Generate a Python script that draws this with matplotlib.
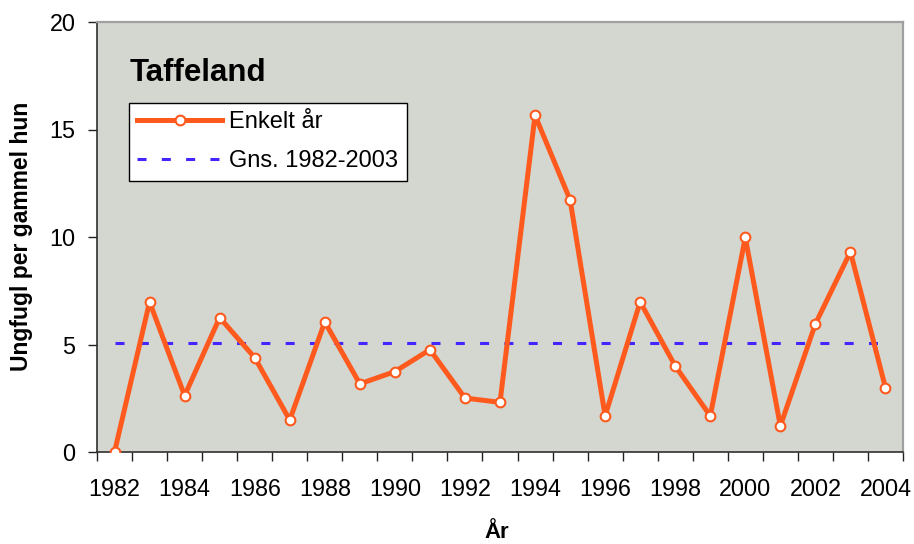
import matplotlib
matplotlib.use('Agg')
import matplotlib.pyplot as plt
from matplotlib.ticker import FixedLocator

plt.rcParams['font.family'] = ['Liberation Sans', 'DejaVu Sans']
plt.rcParams['lines.scale_dashes'] = False

# data
l_years = [1982, 1983, 1984, 1985, 1986, 1987, 1988, 1989, 1990, 1991, 1992, 1993,
           1994, 1995, 1996, 1997, 1998, 1999, 2000, 2001, 2002, 2003, 2004]
l_enkelt = [0.0, 6.98, 2.62, 6.25, 4.39, 1.49, 6.05, 3.17, 3.74, 4.76, 2.51, 2.31,
            15.66, 11.73, 1.68, 6.98, 4.0, 1.68, 9.98, 1.21, 5.96, 9.31, 2.99]
f_gns = 5.08
l_yticks = [0, 5, 10, 15, 20]

s_title = 'Taffeland'
s_lab1 = 'Enkelt år'
s_lab2 = 'Gns. 1982-2003'

c_orange = '#FF5A1E'
c_blue = '#4326FF'
c_bg = '#D4D6D0'

# plot area in pixels of the 914x544 picture
i_left, i_right, i_top, i_bottom = 97, 903, 22, 452
i_w = i_right - i_left
i_h = i_bottom - i_top

fig = plt.figure(figsize=(9.14, 5.44), dpi=100)
ax = fig.add_axes([i_left/914, (544-i_bottom)/544, i_w/914, i_h/544])
ax.set_facecolor(c_bg)

l_x = list(range(len(l_years)))
ax.plot(l_x, l_enkelt, color=c_orange, lw=3.6, marker='o', ms=7.0,
        mfc='white', mec=c_orange, mew=1.5, label=s_lab1, zorder=3)
ax.plot([l_x[0], l_x[-1]], [f_gns, f_gns], color=c_blue, lw=2.2,
        linestyle=(0, (6.5, 11.0)), label=s_lab2, zorder=2)

ax.set_xlim(-0.5, len(l_years) - 0.5)
ax.set_ylim(0, 20)

# x axis: tick marks on category boundaries, labels every other year
ax.xaxis.set_major_locator(FixedLocator(l_x[::2]))
ax.set_xticklabels([str(y) for y in l_years[::2]])
ax.xaxis.set_minor_locator(FixedLocator([i - 0.5 for i in range(len(l_years) + 1)]))
ax.tick_params(axis='x', which='major', length=0, pad=19, labelsize=16.8)
ax.tick_params(axis='x', which='minor', length=6.5, width=1, direction='out', color='#202020')

ax.set_yticks(l_yticks)
ax.tick_params(axis='y', which='major', length=6.5, width=1, direction='out',
               pad=9, labelsize=16.8, color='#202020')

for s in ['top', 'right']:
    ax.spines[s].set_color('#A0A0A0')
    ax.spines[s].set_linewidth(1.6)
for s in ['left', 'bottom']:
    ax.spines[s].set_color('#303030')
    ax.spines[s].set_linewidth(1.2)

ax.text((130-i_left)/i_w, (i_bottom-81)/i_h, s_title, transform=ax.transAxes,
        fontsize=22.5, fontweight='bold', ha='left', va='baseline')

leg = ax.legend(loc='upper left', bbox_to_anchor=((129-i_left)/i_w, (i_bottom-103)/i_h),
                borderaxespad=0, fontsize=17, handlelength=3.6, handletextpad=0.3,
                labelspacing=0.72, borderpad=0.35, fancybox=False, framealpha=1,
                edgecolor='black', facecolor='white')
leg.get_frame().set_linewidth(1.0)

fig.text(22/914, 1 - 236.5/544, 'Ungfugl per gammel hun', rotation=90,
         ha='center', va='center', fontsize=16.5, fontweight='bold')
fig.text(497/914, 1 - 538/544, 'År', ha='center', va='baseline',
         fontsize=16, fontweight='bold')

plt.savefig('out.png', dpi=100)
